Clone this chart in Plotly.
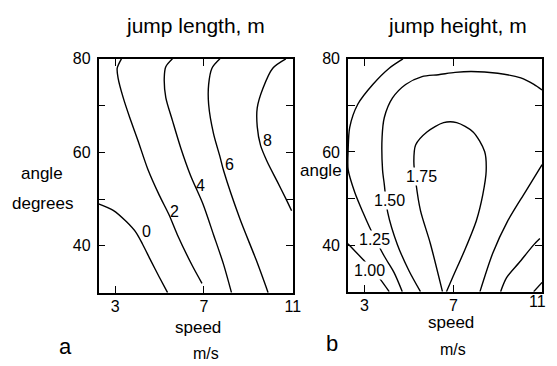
import plotly.graph_objects as go

W, H = 557, 366

# panel a: jump length contours (speed m/s, angle degrees)
len_levels = ["0", "2", "4", "6", "8"]
len0_speed = [2.25, 2.91, 3.50, 3.95, 4.24, 4.61, 4.99, 5.36]
len0_angle = [49.0, 47.6, 45.2, 42.8, 40.3, 36.8, 33.3, 30.0]
len2_speed = [3.28, 3.09, 3.13, 3.36, 3.65, 4.02, 4.47, 4.99, 5.43, 5.80, 6.47, 6.91]
len2_angle = [80.0, 78.0, 75.9, 71.7, 67.5, 62.6, 56.4, 50.8, 46.6, 42.4, 35.8, 32.0]
len4_speed = [5.58, 5.28, 5.21, 5.28, 5.58, 5.95, 6.40, 6.95, 7.43, 7.88, 8.24]
len4_angle = [80.0, 78.3, 75.9, 71.7, 66.8, 61.0, 55.0, 49.0, 42.4, 36.1, 30.0]
len6_speed = [7.72, 7.36, 7.21, 7.21, 7.43, 7.72, 7.89, 8.61, 9.36, 9.89]
len6_angle = [80.0, 78.0, 74.5, 70.3, 64.0, 59.1, 56.0, 45.9, 36.9, 30.0]
len8_speed = [10.69, 10.10, 9.65, 9.40, 9.40, 9.55, 9.85, 10.30, 10.70, 10.95]
len8_angle = [80.0, 78.0, 73.6, 69.5, 65.5, 61.5, 58.0, 53.8, 50.0, 47.5]
len_label_speed = [4.39, 5.65, 6.84, 8.17, 9.88]
len_label_angle = [43.1, 47.3, 52.9, 57.4, 62.6]

# panel b: jump height contours
hgt_levels = ["1.00", "1.25", "1.50", "1.75"]
h100a_speed = [2.25, 2.93, 3.59, 4.11]
h100a_angle = [40.3, 36.9, 33.4, 30.0]
h100b_speed = [10.62, 11.0]
h100b_angle = [30.0, 32.0]
h125a_speed = [4.73, 4.11, 3.37, 2.70, 2.33, 2.26, 2.26, 2.56, 2.92, 3.22, 3.89, 4.33, 4.70]
h125a_angle = [80.0, 78.0, 74.5, 70.3, 65.3, 60.4, 56.2, 51.3, 47.1, 43.9, 37.6, 34.1, 30.0]
h125b_speed = [10.90, 10.63, 9.96, 9.40, 9.13]
h125b_angle = [41.4, 40.1, 36.2, 33.0, 30.0]
h150a_speed = [5.52, 5.00, 4.48, 4.04, 3.89, 3.81, 3.79, 3.89, 4.26, 4.85, 5.59, 6.33,
               7.08, 7.81, 9.00, 10.04, 10.63, 11.0]
h150a_angle = [30.0, 34.5, 40.1, 47.1, 53.0, 56.2, 63.2, 67.4, 71.6, 74.5, 76.2, 76.6,
               77.1, 77.3, 76.9, 75.9, 74.5, 73.3]
h150b_speed = [11.0, 10.24, 9.44, 8.78, 8.20]
h150b_angle = [57.3, 51.4, 45.1, 38.3, 30.0]
h175_speed = [6.51, 5.96, 5.52, 5.31, 5.22, 5.30, 5.81, 6.56, 7.15, 7.89, 8.41, 8.48,
              8.33, 8.04, 7.52, 7.00, 6.69]
h175_angle = [30.0, 40.4, 47.4, 53.5, 58.0, 61.5, 64.3, 66.3, 66.3, 64.3, 60.1, 55.9,
              50.9, 45.3, 39.0, 33.4, 30.0]
hgt_label_speed = [3.22, 3.44, 4.11, 5.58]
hgt_label_angle = [34.5, 41.1, 49.5, 54.7]

speed_ticks = [3, 7, 11]
speed_text_a = ["3", "7", "11"]
speed_text_b = ["3", "7", ""]   # "11" on panel b is placed by hand so it is not clipped
angle_ticks = [40, 50, 60, 70, 80]
angle_text = ["40", "", "60", "", "80"]

FONT = "Liberation Sans, Arial, Helvetica, sans-serif"


def px(x):
    return x / W


def py(y):
    return 1 - y / H


fig = go.Figure()

line_style = dict(color="black", width=1.4, shape="spline", smoothing=0.8)

for xs, ys in [(len0_speed, len0_angle), (len2_speed, len2_angle), (len4_speed, len4_angle),
               (len6_speed, len6_angle), (len8_speed, len8_angle)]:
    fig.add_trace(go.Scatter(x=xs, y=ys, mode="lines", line=line_style,
                             xaxis="x", yaxis="y", hoverinfo="skip", showlegend=False))

for xs, ys in [(h100a_speed, h100a_angle), (h100b_speed, h100b_angle),
               (h125a_speed, h125a_angle), (h125b_speed, h125b_angle),
               (h150a_speed, h150a_angle), (h150b_speed, h150b_angle),
               (h175_speed, h175_angle)]:
    fig.add_trace(go.Scatter(x=xs, y=ys, mode="lines", line=line_style,
                             xaxis="x2", yaxis="y2", hoverinfo="skip", showlegend=False))

annotations = []
for t, xs, ys in zip(len_levels, len_label_speed, len_label_angle):
    annotations.append(dict(text=t, x=xs, y=ys, xref="x", yref="y", showarrow=False,
                            font=dict(size=16, family=FONT, color="black")))
for t, xs, ys in zip(hgt_levels, hgt_label_speed, hgt_label_angle):
    annotations.append(dict(text=t, x=xs, y=ys, xref="x2", yref="y2", showarrow=False,
                            bgcolor="white", borderpad=0,
                            font=dict(size=16, family=FONT, color="black")))

texts = [
    ("jump length, m", 198, 18, 21),
    ("jump height, m", 464, 18, 21),
    ("angle", 43, 169, 17),
    ("degrees", 43, 200, 17),
    ("speed", 201, 327, 17),
    ("m/s", 209, 353, 16),
    ("a", 66, 346, 22),
    ("angle", 326, 166, 17),
    ("speed", 458, 322, 17),
    ("m/s", 460, 349, 16),
    ("b", 337, 343, 22),
    ("11", 545, 300, 16),
]
for t, x, y, s in texts:
    annotations.append(dict(text=t, x=px(x), y=py(y), xref="paper", yref="paper",
                            showarrow=False, xanchor="center", yanchor="middle",
                            font=dict(size=s, family=FONT, color="black")))

xaxis_style = dict(range=[2.25, 11], tickvals=speed_ticks, ticks="inside", ticklen=7,
                   tickwidth=1.4, tickcolor="black", showline=True, linecolor="black",
                   linewidth=1.6, mirror="ticks", showgrid=False, zeroline=False,
                   ticklabelstandoff=-2, tickfont=dict(size=16, family=FONT, color="black"))
yaxis_style = dict(range=[30, 80], tickvals=angle_ticks, ticktext=angle_text, ticks="inside",
                   ticklen=7, tickwidth=1.4, tickcolor="black", showline=True,
                   linecolor="black", linewidth=1.6, mirror="ticks", showgrid=False,
                   zeroline=False, ticklabelstandoff=3,
                   tickfont=dict(size=16, family=FONT, color="black"))

fig.update_layout(
    autosize=True,
    margin=dict(l=0, r=0, t=0, b=0),
    paper_bgcolor="white", plot_bgcolor="white",
    xaxis=dict(domain=[px(100), px(297)], anchor="y", ticktext=speed_text_a, **xaxis_style),
    yaxis=dict(domain=[py(291), py(52)], anchor="x", **yaxis_style),
    xaxis2=dict(domain=[px(353), px(550)], anchor="y2", ticktext=speed_text_b, **xaxis_style),
    yaxis2=dict(domain=[py(290), py(52)], anchor="x2", **yaxis_style),
    annotations=annotations,
    showlegend=False,
)

# let the figure fill the browser window exactly, without the page margin
fit_page = (
    "document.documentElement.style.height='100%';"
    "document.body.style.margin='0';"
    "document.body.style.height='100%';"
    "document.body.style.overflow='hidden';"
    "var gd=document.getElementById('{plot_id}');"
    "gd.parentElement.style.height='100%';"
    "Plotly.Plots.resize(gd);"
)

fig.write_html("out.html", config={"displayModeBar": False, "responsive": True},
               default_width="100%", default_height="100%", post_script=fit_page)
